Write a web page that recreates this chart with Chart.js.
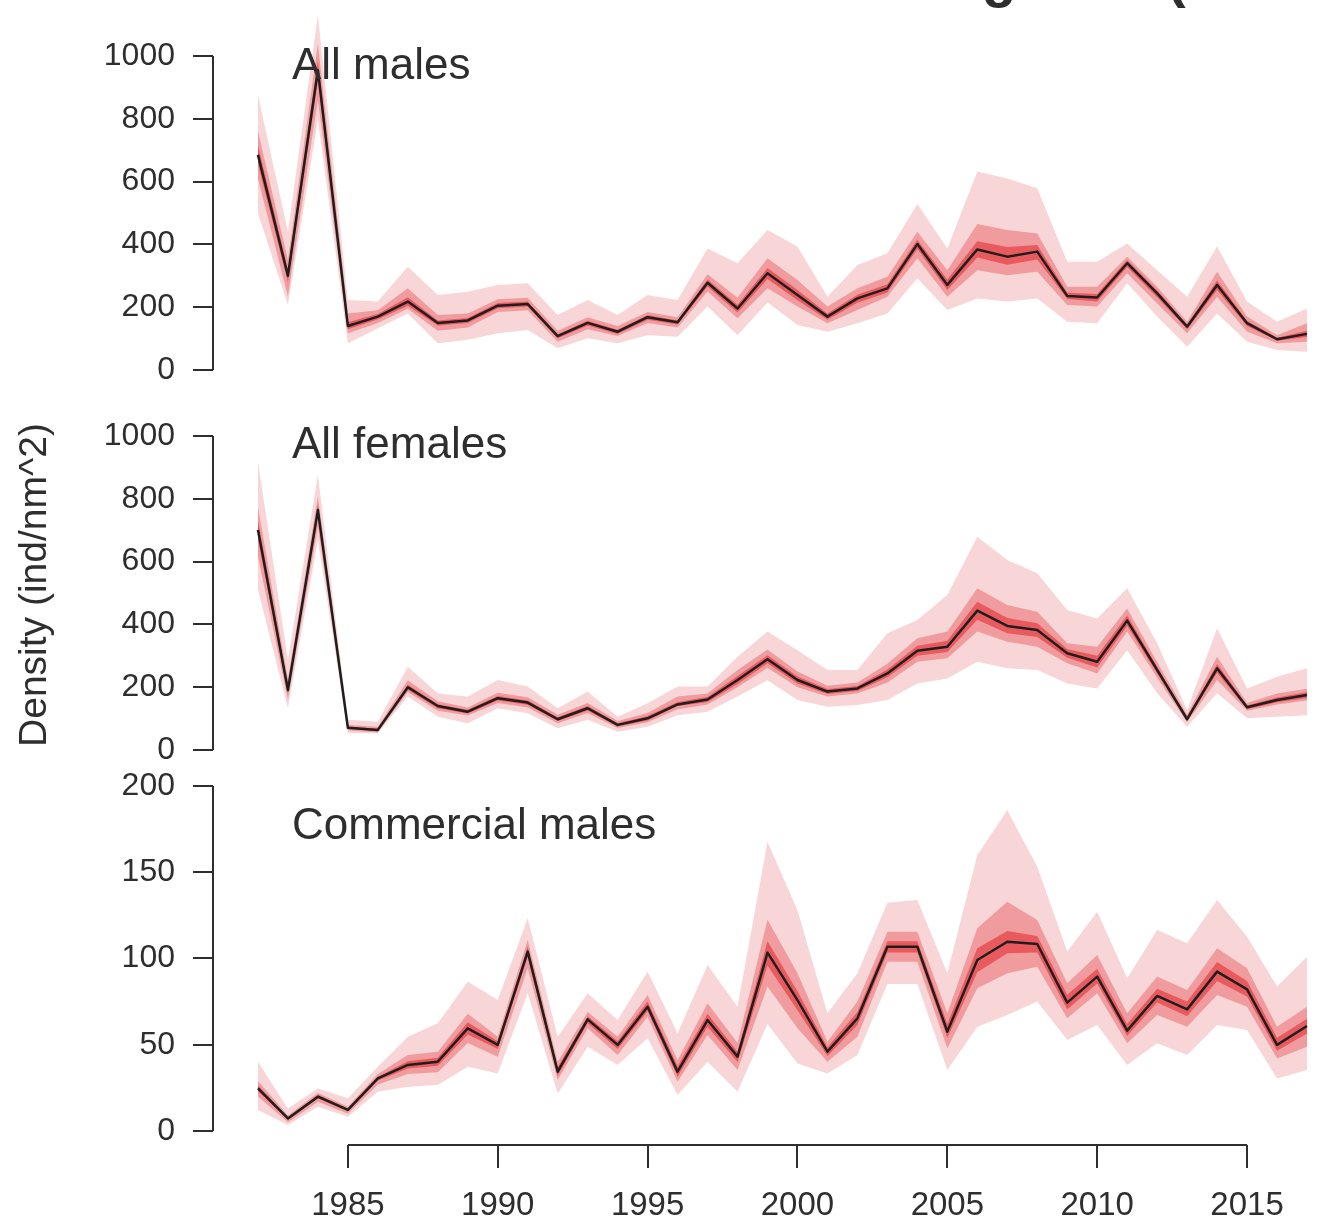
<!DOCTYPE html>
<html>
<head>
<meta charset="utf-8">
<title>Density (ind/nm^2)</title>
<script src="https://cdn.jsdelivr.net/npm/chart.js@4.4.1/dist/chart.umd.min.js"></script>
<style>
    html, body { margin: 0; padding: 0; background: #fff; }
    #wrap { position: relative; width: 1319px; height: 1225px; overflow: hidden; }
    #wrap canvas { position: absolute; left: 0; }
</style>
</head>
<body>
<div id="wrap">
    <canvas id="malesChart" width="1319" height="400" style="top:0px"></canvas>
    <canvas id="femalesChart" width="1319" height="380" style="top:400px"></canvas>
    <canvas id="commercialChart" width="1319" height="485" style="top:740px"></canvas>
</div>
<script>
/**
 * Survey density by year, three stacked panels
 * median line with nested credible bands
 */

const YEARS = [1982, 1983, 1984, 1985, 1986, 1987, 1988, 1989, 1990, 1991, 1992, 1993,
    1994, 1995, 1996, 1997, 1998, 1999, 2000, 2001, 2002, 2003, 2004, 2005,
    2006, 2007, 2008, 2009, 2010, 2011, 2012, 2013, 2014, 2015, 2016, 2017];
const X_TICKS = [1985, 1990, 1995, 2000, 2005, 2010, 2015];
const Y_TICKS_ALL = [0, 200, 400, 600, 800, 1000];
const Y_TICKS_COMMERCIAL = [0, 50, 100, 150, 200];

// All males
const malesMedian = [685, 300, 955, 140, 170, 218, 150, 158, 205, 210, 108, 150,
    122, 168, 152, 278, 196, 308, 239, 170, 228, 260, 401, 271,
    384, 361, 377, 236, 231, 340, 244, 138, 271, 149, 98, 115];
const malesOuterHi = [876, 440, 1130, 223, 218, 329, 239, 249, 271, 276, 175, 223,
    175, 239, 223, 387, 340, 446, 393, 233, 334, 372, 529, 387,
    632, 610, 579, 345, 345, 403, 318, 233, 393, 218, 154, 196];
const malesOuterLo = [499, 207, 796, 85, 133, 180, 85, 96, 117, 127, 69, 101,
    85, 111, 106, 202, 111, 215, 143, 122, 149, 180, 292, 191,
    228, 218, 228, 154, 149, 276, 170, 74, 180, 90, 64, 58];
const malesMidHi = [760, 350, 1040, 180, 190, 260, 175, 180, 225, 230, 125, 168,
    140, 185, 168, 305, 230, 356, 287, 202, 260, 297, 440, 318,
    465, 446, 435, 265, 265, 361, 265, 154, 313, 170, 111, 149];
const malesMidLo = [610, 234, 860, 117, 150, 195, 125, 135, 185, 190, 90, 130,
    108, 150, 135, 250, 165, 260, 202, 149, 191, 233, 356, 233,
    318, 302, 313, 207, 202, 308, 212, 117, 233, 122, 85, 90];
const malesInnerHi = [715, 320, 985, 152, 178, 232, 158, 166, 213, 218, 114, 157,
    128, 175, 158, 288, 208, 325, 255, 180, 240, 273, 415, 288,
    410, 392, 398, 246, 242, 350, 254, 145, 285, 157, 103, 125];
const malesInnerLo = [655, 280, 920, 130, 162, 205, 142, 150, 197, 202, 101, 142,
    115, 160, 145, 266, 183, 290, 222, 160, 214, 247, 385, 255,
    358, 335, 352, 226, 218, 328, 232, 130, 255, 140, 93, 105];

// All females
const femalesMedian = [701, 191, 764, 71, 64, 200, 140, 122, 165, 151, 98, 133,
    80, 101, 145, 161, 223, 289, 223, 186, 196, 244, 316, 329,
    444, 395, 382, 308, 281, 412, 255, 98, 260, 136, 159, 175];
const femalesOuterHi = [918, 287, 876, 96, 90, 265, 180, 170, 223, 202, 133, 186,
    106, 149, 202, 202, 297, 377, 318, 255, 255, 372, 414, 494,
    679, 605, 563, 446, 419, 515, 340, 127, 388, 196, 233, 260];
const femalesOuterLo = [510, 133, 669, 53, 53, 170, 106, 85, 133, 117, 69, 96,
    58, 74, 111, 122, 170, 222, 159, 138, 143, 159, 212, 228,
    281, 260, 255, 212, 196, 318, 181, 74, 181, 101, 106, 111];
const femalesMidHi = [775, 225, 807, 80, 74, 222, 155, 135, 182, 168, 112, 150,
    92, 118, 170, 180, 255, 320, 250, 205, 215, 275, 356, 377,
    515, 462, 440, 340, 329, 451, 280, 112, 297, 150, 180, 195];
const femalesMidLo = [616, 160, 711, 62, 56, 185, 125, 110, 150, 135, 85, 118,
    70, 88, 130, 145, 200, 262, 200, 170, 180, 215, 281, 292,
    377, 345, 329, 276, 244, 377, 230, 88, 223, 125, 145, 158];
const femalesInnerHi = [730, 205, 782, 75, 68, 208, 146, 128, 172, 158, 104, 140,
    85, 108, 153, 169, 236, 302, 234, 194, 204, 256, 332, 348,
    472, 420, 404, 322, 300, 428, 265, 104, 274, 142, 167, 184];
const femalesInnerLo = [672, 178, 745, 67, 60, 192, 133, 116, 158, 144, 92, 126,
    75, 94, 140, 153, 210, 276, 212, 178, 188, 232, 300, 312,
    415, 372, 360, 294, 263, 396, 244, 92, 246, 130, 152, 166];

// Commercial males
const commMedian = [24.7, 7.3, 19.9, 12.2, 30.5, 38.3, 40.2, 59.5, 49.9, 104, 34.4, 64.7,
    49.9, 72, 34.4, 64.3, 43.1, 103.4, 75.9, 46, 65.3, 106.8, 106.8, 57.6,
    99.1, 109.7, 108.4, 74.4, 89.5, 58.2, 78.3, 70.5, 92.4, 82.1, 49.9, 60.9];
const commOuterHi = [40.2, 13, 24.7, 19, 37.3, 54.7, 62.4, 86.6, 75.9, 123.3, 54.7, 79.8,
    64.3, 92.4, 56.6, 96.2, 72, 167.7, 128, 68.2, 91.4, 132.3, 133.9, 91.4,
    160, 186, 153.2, 104, 127.1, 88.5, 116.5, 108.8, 133.9, 112.6, 83.7, 101];
const commOuterLo = [12.2, 3.5, 14, 8.3, 22.8, 25.7, 26.7, 37.3, 33.4, 79.8, 21.8, 48.9,
    38.3, 53.7, 20.9, 40.2, 22.8, 62, 39.2, 33.4, 44, 85.2, 85.2, 35.4,
    60.5, 67.2, 75, 52.8, 61.4, 38.3, 50.8, 44, 61.4, 58.6, 30.5, 35.4];
const commMidHi = [29, 9, 22, 14, 33, 44, 46, 68, 54.7, 110.7, 40, 69,
    54.7, 78.8, 41, 74, 51, 122.5, 91.4, 51.8, 75, 115.5, 115.5, 68.2,
    117.5, 132.9, 122.3, 85.6, 102, 68.2, 89.5, 81.7, 105.9, 94.3, 60.5, 72];
const commMidLo = [20, 5, 17, 10, 27, 33, 34, 51, 43, 94.3, 29.6, 59.5,
    44, 66.3, 28.6, 55.7, 35.4, 83.7, 59.5, 40.2, 54.7, 98.1, 98.1, 48,
    82.7, 91.4, 95.2, 65.3, 79.8, 50.8, 67.2, 60.5, 78.8, 72, 42.1, 48.9];
const commInnerHi = [26.5, 8, 21, 13, 31.5, 40.5, 42.5, 63, 52, 107, 37, 66.5,
    52, 75, 37.5, 68, 46, 110, 81, 48.5, 69, 110, 110, 62,
    106, 116, 113, 79, 94, 62, 82.5, 75, 98, 87, 54, 65];
const commInnerLo = [23, 6.5, 18.8, 11.4, 29.3, 36.2, 37.8, 56, 47.5, 101, 32, 62.5,
    47.5, 69.5, 31.5, 60.5, 40, 96, 70, 43.5, 61.5, 103.5, 103.5, 54,
    92, 103, 103.5, 70.5, 85.5, 55, 74.5, 66.5, 87, 78, 46.5, 56.5];

const BAND_COLORS = {
    outer: '#f8d6d7',
    mid: '#f09c9e',
    inner: '#e95a5f'
};
const INK = '#2e2e2e';

Chart.defaults.font.family = "'Liberation Sans', Arial, Helvetica, sans-serif";
Chart.defaults.color = INK;

/**
 * Pair each value with its year
 */
function toPoints(values) {
    return YEARS.map((yr, i) => ({ x: yr, y: values[i] }));
}

/**
 * Band edge dataset (upper edge fills down to the next dataset)
 */
function bandEdge(values, color, order, isUpper) {
    return {
        data: toPoints(values),
        borderWidth: 0,
        borderColor: 'rgba(0,0,0,0)',
        backgroundColor: color,
        pointRadius: 0,
        fill: isUpper ? '+1' : false,
        order: order
    };
}

/**
 * R style axes, panel label and the loose titles
 */
const rAxisPlugin = {
    id: 'rAxis',
    afterDraw(chart, args, opts) {
        const { ctx, chartArea, scales } = chart;
        ctx.save();
        ctx.strokeStyle = INK;
        ctx.lineWidth = 2;

        // y axis line only spans the ticks
        const yt = scales.y.ticks;
        ctx.beginPath();
        ctx.moveTo(chartArea.left, scales.y.getPixelForValue(yt[0].value));
        ctx.lineTo(chartArea.left, scales.y.getPixelForValue(yt[yt.length - 1].value));
        ctx.stroke();

        if (scales.x.options.display) {
            const xt = scales.x.ticks;
            ctx.beginPath();
            ctx.moveTo(scales.x.getPixelForValue(xt[0].value), chartArea.bottom);
            ctx.lineTo(scales.x.getPixelForValue(xt[xt.length - 1].value), chartArea.bottom);
            ctx.stroke();
        }

        ctx.fillStyle = INK;
        ctx.textBaseline = 'alphabetic';
        ctx.textAlign = 'left';
        ctx.font = "44px 'Liberation Sans', Arial, sans-serif";
        ctx.fillText(opts.label, 292, opts.labelY);

        if (opts.yTitle) {
            ctx.save();
            ctx.translate(46, opts.yTitleY);
            ctx.rotate(-Math.PI / 2);
            ctx.textAlign = 'center';
            ctx.font = "39px 'Liberation Sans', Arial, sans-serif";
            ctx.fillText(opts.yTitle, 0, 0);
            ctx.restore();
        }

        // main title sits above the picture, only its descenders show
        if (opts.topTitle) {
            ctx.font = "bold 56px 'Liberation Sans', Arial, sans-serif";
            ctx.fillText('g', 982, -4);
            ctx.fillText('(', 1167, -4);
        }
        ctx.restore();
    }
};

/**
 * Build one panel
 */
function createPanel(canvasId, p) {
    const ctx = document.getElementById(canvasId);

    const datasets = [
        {
            data: toPoints(p.median),
            borderColor: '#1e1e1e',
            borderWidth: 2.5,
            borderJoinStyle: 'round',
            pointRadius: 0,
            fill: false,
            order: 0
        },
        bandEdge(p.innerHi, BAND_COLORS.inner, 1, true),
        bandEdge(p.innerLo, BAND_COLORS.inner, 1, false),
        bandEdge(p.midHi, BAND_COLORS.mid, 2, true),
        bandEdge(p.midLo, BAND_COLORS.mid, 2, false),
        bandEdge(p.outerHi, BAND_COLORS.outer, 3, true),
        bandEdge(p.outerLo, BAND_COLORS.outer, 3, false)
    ];

    new Chart(ctx, {
        type: 'line',
        data: { datasets: datasets },
        options: {
            responsive: false,
            animation: false,
            events: [],
            layout: { padding: { top: p.padTop, bottom: p.padBottom, left: 0, right: 0 } },
            elements: { line: { tension: 0 } },
            plugins: {
                legend: { display: false },
                tooltip: { enabled: false },
                rAxis: {
                    label: p.label,
                    labelY: p.labelY,
                    yTitle: p.yTitle,
                    yTitleY: p.yTitleY,
                    topTitle: p.topTitle
                }
            },
            scales: {
                x: {
                    type: 'linear',
                    display: p.showX,
                    min: 1980.5,
                    max: 2017.4,
                    afterBuildTicks: s => { s.ticks = X_TICKS.map(v => ({ value: v })); },
                    afterFit: s => {
                        s.height = p.showX ? 80 : 0;
                        s.paddingLeft = 0;
                        s.paddingRight = 0;
                    },
                    grid: { drawOnChartArea: false, tickLength: 23, color: INK, lineWidth: 2 },
                    border: { display: false },
                    ticks: {
                        padding: 18,
                        autoSkip: false,
                        maxRotation: 0,
                        font: { size: 33 },
                        color: INK,
                        callback: v => String(v)
                    }
                },
                y: {
                    type: 'linear',
                    min: p.yMin,
                    max: p.yMax,
                    afterBuildTicks: s => { s.ticks = p.yTicks.map(v => ({ value: v })); },
                    afterFit: s => { s.width = 213; s.paddingTop = 0; s.paddingBottom = 0; },
                    grid: { drawOnChartArea: false, tickLength: 20, color: INK, lineWidth: 2 },
                    border: { display: false },
                    ticks: {
                        padding: 18,
                        font: { size: 32 },
                        color: INK,
                        callback: v => String(v)
                    }
                }
            }
        },
        plugins: [rAxisPlugin]
    });
}

createPanel('malesChart', {
    median: malesMedian,
    outerHi: malesOuterHi, outerLo: malesOuterLo,
    midHi: malesMidHi, midLo: malesMidLo,
    innerHi: malesInnerHi, innerLo: malesInnerLo,
    yTicks: Y_TICKS_ALL, yMin: -45, yMax: 1160,
    padTop: 5.76, padBottom: 15.87,
    label: 'All males', labelY: 79,
    topTitle: true,
    showX: false
});

createPanel('femalesChart', {
    median: femalesMedian,
    outerHi: femalesOuterHi, outerLo: femalesOuterLo,
    midHi: femalesMidHi, midLo: femalesMidLo,
    innerHi: femalesInnerHi, innerLo: femalesInnerLo,
    yTicks: Y_TICKS_ALL, yMin: -45, yMax: 1100,
    padTop: 4.6, padBottom: 15.87,
    label: 'All females', labelY: 58,
    yTitle: 'Density (ind/nm^2)', yTitleY: 185,
    showX: false
});

createPanel('commercialChart', {
    median: commMedian,
    outerHi: commOuterHi, outerLo: commOuterLo,
    midHi: commMidHi, midLo: commMidLo,
    innerHi: commInnerHi, innerLo: commInnerLo,
    yTicks: Y_TICKS_COMMERCIAL, yMin: -8.116, yMax: 220,
    padTop: 11.5, padBottom: 0,
    label: 'Commercial males', labelY: 99,
    showX: true
});
</script>
</body>
</html>
